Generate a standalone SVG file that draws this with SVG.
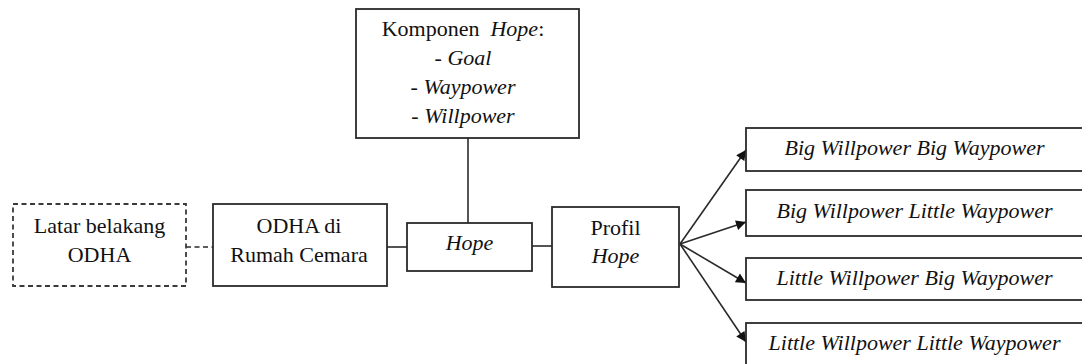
<svg xmlns="http://www.w3.org/2000/svg" width="1082" height="364" viewBox="0 0 1082 364">
<defs>
<style>
.box{fill:#fff;stroke:#2a2a2a;stroke-width:1.8}
.dash{fill:#fff;stroke:#3a3a3a;stroke-width:1.8;stroke-dasharray:5 3.5}
.ln{stroke:#2a2a2a;stroke-width:1.6;fill:none}
.t{font-family:"Liberation Serif","Times New Roman",serif;font-size:22px;fill:#111;text-anchor:middle}
.i{font-style:italic}
</style>
<marker id="ah" viewBox="0 0 10 10" refX="10" refY="5" markerWidth="11" markerHeight="10" markerUnits="userSpaceOnUse" orient="auto">
<path d="M0,0 L10,5 L0,10 Z" fill="#111"/>
</marker>
</defs>
<rect width="1082" height="364" fill="#fff"/>
<g id="connectors">
<line class="ln" x1="186" y1="247" x2="213" y2="247" stroke-dasharray="5 3.5"/>
<line class="ln" x1="387" y1="247" x2="407" y2="247"/>
<line class="ln" x1="468" y1="138" x2="468" y2="223"/>
<line class="ln" x1="532" y1="246" x2="552" y2="246"/>
<line class="ln" x1="680" y1="244" x2="746" y2="150" marker-end="url(#ah)"/>
<line class="ln" x1="680" y1="244" x2="746" y2="222" marker-end="url(#ah)"/>
<line class="ln" x1="680" y1="244" x2="746" y2="283" marker-end="url(#ah)"/>
<line class="ln" x1="680" y1="244" x2="746" y2="342" marker-end="url(#ah)"/>
</g>
<g id="latar">
<rect class="dash" x="13" y="204" width="173" height="82"/>
<text class="t" x="99.5" y="233">Latar belakang</text>
<text class="t" x="99.5" y="262">ODHA</text>
</g>
<g id="odha">
<rect class="box" x="213" y="204" width="174" height="82"/>
<text class="t" x="299" y="233">ODHA di</text>
<text class="t" x="299" y="262">Rumah Cemara</text>
</g>
<g id="komponen">
<rect class="box" x="356" y="9" width="223" height="129"/>
<text class="t" x="463" y="36">Komponen&#160; <tspan class="i">Hope</tspan>:</text>
<text class="t" x="463" y="65">- <tspan class="i">Goal</tspan></text>
<text class="t" x="463" y="94">- <tspan class="i">Waypower</tspan></text>
<text class="t" x="463" y="123">- <tspan class="i">Willpower</tspan></text>
</g>
<g id="hope">
<rect class="box" x="407" y="223" width="125" height="48"/>
<text class="t i" x="469.5" y="250">Hope</text>
</g>
<g id="profil">
<rect class="box" x="552" y="207" width="127" height="80"/>
<text class="t" x="615.5" y="235">Profil</text>
<text class="t i" x="615.5" y="263">Hope</text>
</g>
<g id="bwbw">
<rect class="box" x="746" y="128" width="345" height="43"/>
<text class="t i" x="914.5" y="155">Big Willpower Big Waypower</text>
</g>
<g id="bwlw">
<rect class="box" x="746" y="190" width="345" height="46"/>
<text class="t i" x="914.5" y="218">Big Willpower Little Waypower</text>
</g>
<g id="lwbw">
<rect class="box" x="746" y="258" width="345" height="42"/>
<text class="t i" x="914.5" y="285">Little Willpower Big Waypower</text>
</g>
<g id="lwlw">
<rect class="box" x="746" y="323" width="345" height="60"/>
<text class="t i" x="914.5" y="350">Little Willpower Little Waypower</text>
</g>
</svg>
